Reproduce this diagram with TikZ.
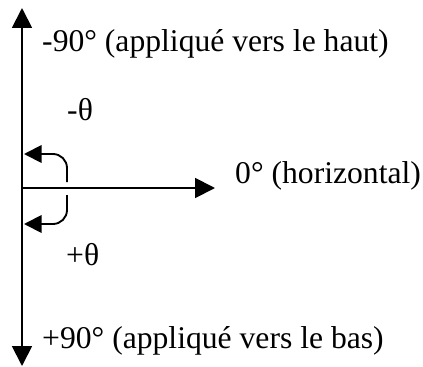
\documentclass[tikz,border=0pt]{standalone}
\usepackage{fontspec}
\setmainfont{Liberation Serif}
\usetikzlibrary{arrows.meta}

\begin{document}
\begin{tikzpicture}[
  x=0.03cm, y=-0.03cm,
  axe/.style={line width=1.6pt, -{Triangle[length=17,width=17]}},
  rot/.style={line width=1.6pt, rounded corners=12, -{Triangle[length=15,width=15]}},
  lbl/.style={anchor=base west, inner sep=0pt, font=\fontsize{27}{30}\selectfont}
]
\useasboundingbox (0,0) rectangle (423,367);

% Axes
\coordinate (O) at (22,188);
\coordinate (haut) at (22,8);
\coordinate (bas) at (22,366);
\coordinate (droite) at (215,188);
\draw[axe] (O) -- (haut);
\draw[axe] (O) -- (bas);
\draw[axe] (O) -- (droite);

% Angle arrows
\coordinate (moins0) at (67,182);
\coordinate (moins1) at (67,154);
\coordinate (moins2) at (24,154);
\coordinate (plus0) at (67,195);
\coordinate (plus1) at (67,224);
\coordinate (plus2) at (24,224);
\draw[rot] (moins0) -- (moins1) -- (moins2);
\draw[rot] (plus0) -- (plus1) -- (plus2);

% Labels
\node[lbl] (lhaut) at (42,52) {-90° (appliqué vers le haut)};
\node[lbl] (lmoins) at (67,120) {-θ};
\node[lbl] (lhoriz) at (235,183) {0° (horizontal)};
\node[lbl] (lplus) at (66,265) {+θ};
\node[lbl] (lbas) at (42,348) {+90° (appliqué vers le bas)};

\end{tikzpicture}
\end{document}
